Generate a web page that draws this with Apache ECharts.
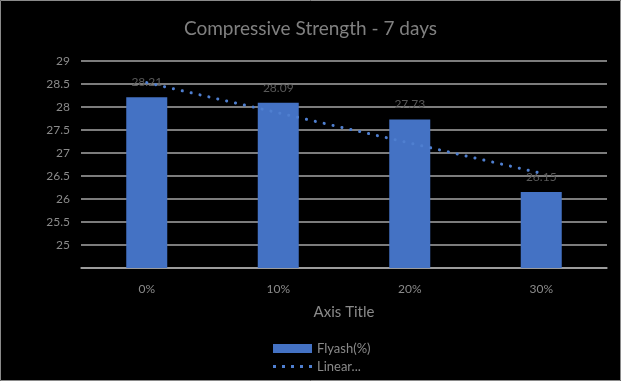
<!DOCTYPE html>
<html><head><meta charset="utf-8">
<script src="https://cdn.jsdelivr.net/npm/echarts@6/dist/echarts.min.js"></script>
<style>html,body{margin:0;padding:0;background:#000;}#c{width:621px;height:381px;}</style>
</head><body><div id="c"></div>
<script>
const categories = ['0%', '10%', '20%', '30%'];
const flyash = [28.21, 28.09, 27.73, 26.15];
// linear trendline endpoints
const trend = [28.53, null, null, 26.56];
const yTicks = ['25', '25.5', '26', '26.5', '27', '27.5', '28', '28.5', '29'];

const FONT = 'Lato';
const legendText = { color: '#8a8a8a', fontSize: 13, fontFamily: FONT };
const chart = echarts.init(document.getElementById('c'));
chart.setOption({
  backgroundColor: '#000',
  animation: false,
  title: {
    text: 'Compressive Strength - 7 days', left: 'center', top: 14,
    textStyle: { color: '#808080', fontSize: 19, fontWeight: 'normal', fontFamily: FONT }
  },
  grid: { left: 81, right: 14, top: 61, bottom: 113 },
  xAxis: {
    type: 'category', data: categories,
    name: 'Axis Title', nameLocation: 'middle', nameGap: 37,
    nameTextStyle: { color: '#8a8a8a', fontSize: 15, fontFamily: FONT },
    axisLine: { lineStyle: { color: '#a6a6a6', width: 1.5 } },
    axisTick: { show: false },
    axisLabel: { color: '#8a8a8a', fontSize: 12, fontFamily: FONT, margin: 15 }
  },
  yAxis: {
    type: 'value', min: 24.5, max: 29, interval: 0.5,
    axisLine: { show: false }, axisTick: { show: false },
    splitLine: { lineStyle: { color: '#a6a6a6', width: 1.5 } },
    axisLabel: {
      color: '#8a8a8a', fontSize: 12, fontFamily: FONT, margin: 11,
      formatter: v => { const s = String(+v.toFixed(1)); return yTicks.includes(s) ? s : ''; }
    }
  },
  legend: [
    {
      left: 273, top: 342, padding: 0, itemWidth: 39, itemHeight: 9, itemGap: 5,
      textStyle: legendText, data: [{ name: 'Flyash(%)', icon: 'rect' }]
    },
    {
      left: 273, top: 360, padding: 0, itemWidth: 39, itemHeight: 3, itemGap: 5,
      textStyle: legendText,
      data: [{
        name: 'Linear...',
        icon: 'path://M0,0h3v3h-3z M9,0h3v3h-3z M18,0h3v3h-3z M27,0h3v3h-3z M36,0h3v3h-3z'
      }]
    }
  ],
  series: [
    {
      name: 'Flyash(%)', type: 'bar', data: flyash, barWidth: 41,
      itemStyle: { color: '#4472C4' },
      label: { show: true, position: 'top', distance: 9, color: '#595959', fontSize: 12, fontFamily: FONT }
    },
    {
      name: 'Linear...', type: 'line', data: trend, connectNulls: true,
      symbol: 'none', z: 5,
      lineStyle: { color: '#4f7fd0', width: 3, type: [0.1, 9], cap: 'round' },
      itemStyle: { color: '#4f7fd0' }
    }
  ],
  graphic: [{
    type: 'rect', shape: { x: 0.5, y: 0.5, width: 620, height: 380 },
    style: { fill: 'none', stroke: '#8a8a8a', lineWidth: 1 }, silent: true
  }]
});
</script></body></html>
